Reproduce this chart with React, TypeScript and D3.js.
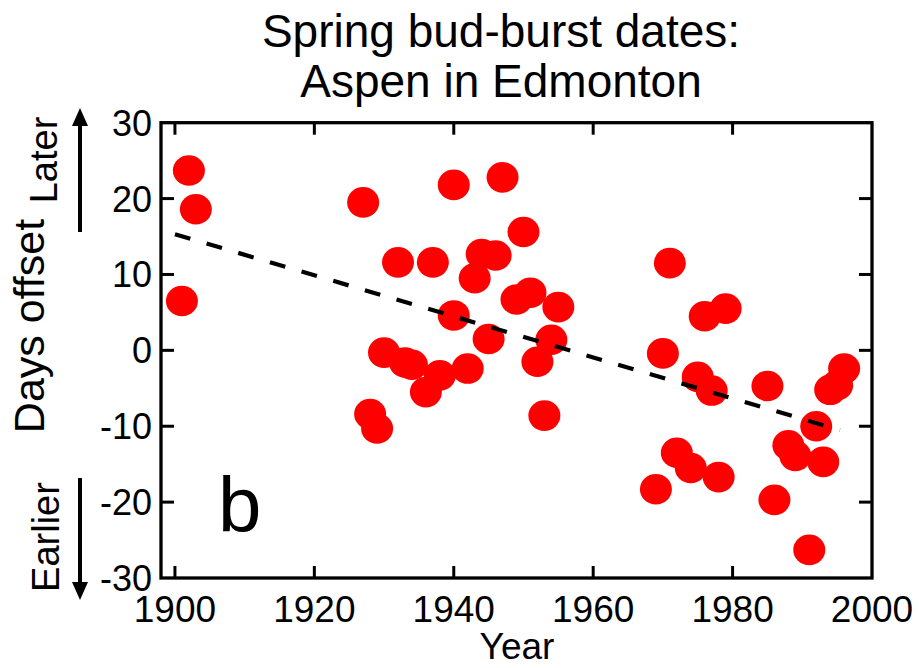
import React from "react";
import * as d3 from "d3";

const years = [1901, 1902, 1903, 1927, 1928, 1929, 1930, 1932, 1933, 1934, 1936, 1937, 1938, 1940, 1940, 1942, 1943, 1944, 1945, 1946, 1947, 1949, 1950, 1951, 1952, 1953, 1954, 1955, 1969, 1970, 1971, 1972, 1974, 1975, 1976, 1977, 1978, 1979, 1985, 1986, 1988, 1989, 1991, 1992, 1993, 1994, 1995, 1996];
const offsets = [6.5, 23.7, 18.6, 19.5, -8.4, -10.3, -0.3, 11.6, -1.6, -1.9, -5.5, 11.6, -3.3, 21.8, 4.6, -2.4, 9.5, 12.7, 1.5, 12.5, 22.8, 6.7, 15.6, 7.6, -1.5, -8.6, 1.4, 5.7, -18.3, -0.4, 11.5, -13.5, -15.5, -3.5, 4.5, -5.3, -16.7, 5.5, -4.7, -19.7, -12.5, -13.9, -26.3, -10, -14.7, -5.2, -4.6, -2.4];
const trendYears = [1900, 1995.4];
const trendValues = [15.3, -10.5];
const xTicks = [1900, 1920, 1940, 1960, 1980, 2000];
const yTicks = [-30, -20, -10, 0, 10, 20, 30];
const titleLines = ["Spring bud-burst dates:", "Aspen in Edmonton"];

const W = 919;
const H = 668;
const L = 161, R = 872, T = 122.7, B = 578;
const FONT = "'Liberation Sans', Arial, Helvetica, sans-serif";

export default function App() {
  const x = d3.scaleLinear().domain([1898, 2000]).range([L, R]);
  const y = d3.scaleLinear().domain([-30, 30]).range([B, T]);
  const line = d3.line<number>().x((_, i) => x(trendYears[i])).y((d) => y(d));
  const innerX = xTicks.filter((t) => x(t) > L + 1 && x(t) < R - 1);
  const innerY = yTicks.filter((t) => y(t) > T + 1 && y(t) < B - 1);

  return (
    <svg width={W} height={H} style={{ position: "absolute", left: 0, top: 0, display: "block", background: "#fff" }} fontFamily={FONT}>
      {titleLines.map((t, i) => (
        <text key={t} x={501} y={47 + i * 50} fontSize={46} textAnchor="middle" fill="#000">{t}</text>
      ))}
      {years.map((yr, i) => (
        <ellipse key={i} cx={x(yr)} cy={y(offsets[i])} rx={16} ry={15.3} fill="#ff0000" />
      ))}
      <path d={line(trendValues) || ""} fill="none" stroke="#000" strokeWidth={4.2} strokeDasharray="16 17" />
      <rect x={L} y={T} width={R - L} height={B - T} fill="none" stroke="#000" strokeWidth={3.3} />
      {innerX.map((t) => (
        <g key={"xt" + t}>
          <line x1={x(t)} x2={x(t)} y1={B} y2={B - 12} stroke="#000" strokeWidth={3} />
          <line x1={x(t)} x2={x(t)} y1={T} y2={T + 12} stroke="#000" strokeWidth={3} />
        </g>
      ))}
      {innerY.map((t) => (
        <g key={"yt" + t}>
          <line x1={L} x2={L + 13} y1={y(t)} y2={y(t)} stroke="#000" strokeWidth={3} />
          <line x1={R} x2={R - 13} y1={y(t)} y2={y(t)} stroke="#000" strokeWidth={3} />
        </g>
      ))}
      {xTicks.map((t) => (
        <text key={"xl" + t} x={x(t)} y={622} fontSize={37} textAnchor="middle" fill="#000">{t}</text>
      ))}
      {yTicks.map((t) => (
        <text key={"yl" + t} x={152} y={y(t)} dy="0.36em" fontSize={36} textAnchor="end" fill="#000">{t}</text>
      ))}
      <text x={517} y={659} fontSize={37} textAnchor="middle" fill="#000">Year</text>
      <text transform="translate(44,326) rotate(-90)" fontSize={43} textAnchor="middle" fill="#000">Days offset</text>
      <text transform="translate(57,160) rotate(-90)" fontSize={38} textAnchor="middle" fill="#000">Later</text>
      <text transform="translate(59,537) rotate(-90)" fontSize={38} textAnchor="middle" fill="#000">Earlier</text>
      <line x1={80} x2={80} y1={232} y2={120} stroke="#000" strokeWidth={4} />
      <polygon points="80,108 72,126 88,126" fill="#000" />
      <line x1={80} x2={80} y1={478} y2={588} stroke="#000" strokeWidth={4} />
      <polygon points="80,600 72,582 88,582" fill="#000" />
      <text x={218} y={532} fontSize={78} fill="#000">b</text>
    </svg>
  );
}
